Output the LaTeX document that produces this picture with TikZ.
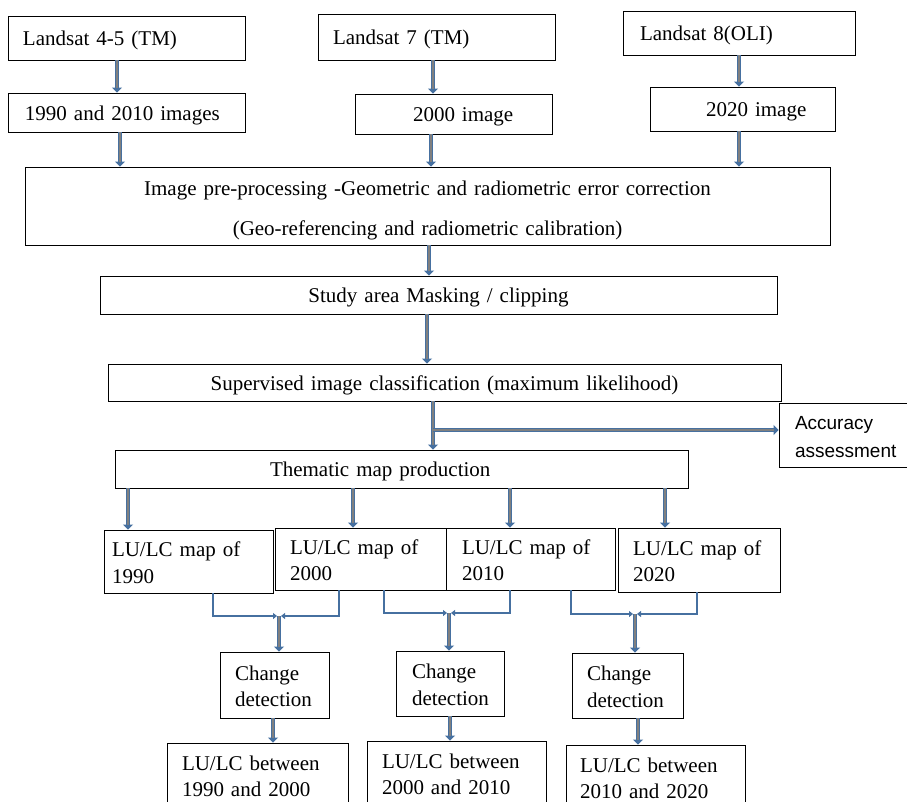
\documentclass[tikz,border=0pt]{standalone}
\usepackage{fontspec}
\setmainfont{Liberation Serif}
\newfontfamily\accfont{Liberation Sans}
\usetikzlibrary{arrows.meta}
\definecolor{abl}{RGB}{70,112,160}
\definecolor{agr}{RGB}{128,128,128}
\tikzset{
  box/.style={draw, line width=0.8pt, inner xsep=0pt, inner ysep=0pt, align=left,
    font=\fontsize{21}{26.5}\selectfont},
  bigarr/.style={draw=abl, line width=4.5pt, -{Triangle[width=10pt,length=5pt]},
    postaction={draw=agr, line width=1.4pt, -, shorten >=5pt}},
  thinarr/.style={draw=abl, line width=1.6pt, -{Triangle[width=6pt,length=4pt]}},
}
\newcommand\bx[7][]{\node[box,#1, minimum height=#6pt, text width=#5pt] (#2) at (#3,#4) {\rule{0pt}{20pt}#7\rule[-3pt]{0pt}{0pt}};}
\newcommand\pd[1]{\hspace*{#1pt}}
\begin{document}
\begin{tikzpicture}[x=1pt,y=-1pt]
\useasboundingbox (0,0) rectangle (907,802);
\clip (0,0) rectangle (907,802);
\bx{l45}{126.5}{38}{237}{44}{\pd{15}Landsat 4-5 (TM)}
\bx{l7}{436.5}{37}{237}{46}{\pd{15}Landsat 7 (TM)}
\bx{l8}{739}{33}{232}{44}{\pd{17}Landsat 8(OLI)}
\bx{i90}{126.5}{112.5}{237}{39}{\pd{17}1990 and 2010 images}
\bx{i00}{453.5}{114}{197}{40}{\pd{58}2000 image}
\bx{i20}{742.5}{109}{185}{44}{\pd{56}2020 image}
\bx[align=center]{pre}{427.5}{206}{805}{78}{\rule{0pt}{24.4pt}Image pre-processing -Geometric and radiometric error correction\\[13.5pt](Geo-referencing and radiometric calibration)}
\bx[align=center]{study}{438.5}{295}{677}{38}{Study area Masking / clipping}
\bx[align=center]{sup}{444.5}{382.5}{673}{37}{Supervised image classification (maximum likelihood)}
\bx[font=\accfont\fontsize{19}{28}\selectfont]{acc}{847}{435}{136}{64}{\pd{16}Accuracy\\\pd{16}assessment}
\bx{them}{401.5}{469}{573}{38}{\pd{155}Thematic map production}
\bx{m90}{188.5}{561.5}{169}{63}{\pd{8}LU/LC map of\\\pd{8}1990}
\bx{m00}{360.5}{559}{171}{62}{\pd{15}LU/LC map of\\\pd{15}2000}
\bx{m10}{530.5}{559}{169}{62}{\pd{16}LU/LC map of\\\pd{16}2010}
\bx{m20}{699}{560}{162}{64}{\pd{15}LU/LC map of\\\pd{15}2020}
\bx{cd1}{274.5}{685}{109}{66}{\pd{15}Change\\\pd{15}detection}
\bx{cd2}{450}{683.5}{108}{65}{\pd{16}Change\\\pd{16}detection}
\bx{cd3}{627.5}{685.5}{111}{65}{\pd{15}Change\\\pd{15}detection}
\bx{b1}{257.5}{775}{181}{64}{\pd{15}LU/LC between\\\pd{15}1990 and 2000}
\bx{b2}{456.5}{773}{179}{64}{\pd{15}LU/LC between\\\pd{15}2000 and 2010}
\bx{b3}{655.5}{777}{179}{64}{\pd{14}LU/LC between\\\pd{14}2010 and 2020}
% big arrows
\draw[bigarr] (117,0 |- l45.south) -- (117,0 |- i90.north);
\draw[bigarr] (120,0 |- i90.south) -- (120,0 |- pre.north);
\draw[bigarr] (433,0 |- l7.south) -- (433,0 |- i00.north);
\draw[bigarr] (431,0 |- i00.south) -- (431,0 |- pre.north);
\draw[bigarr] (739,0 |- l8.south) -- (739,0 |- i20.north);
\draw[bigarr] (739,0 |- i20.south) -- (739,0 |- pre.north);
\draw[bigarr] (429,0 |- pre.south) -- (429,0 |- study.north);
\draw[bigarr] (427,0 |- study.south) -- (427,0 |- sup.north);
\draw[bigarr] (433,0 |- sup.south) -- (433,0 |- them.north);
\coordinate (br) at (433,430);
\draw[bigarr] (br) -- (br -| acc.west);
\draw[bigarr] (128,0 |- them.south) -- (128,0 |- m90.north);
\draw[bigarr] (353,0 |- them.south) -- (353,0 |- m00.north);
\draw[bigarr] (510,0 |- them.south) -- (510,0 |- m10.north);
\draw[bigarr] (665,0 |- them.south) -- (665,0 |- m20.north);
% merges
\coordinate (j1) at (279,616);
\draw[thinarr] (213,0 |- m90.south) |- ([xshift=-2pt]j1);
\draw[thinarr] (339,0 |- m00.south) |- ([xshift=2pt]j1);
\draw[bigarr] (j1) -- (j1 |- cd1.north);
\coordinate (j2) at (449,613);
\draw[thinarr] (384,0 |- m00.south) |- ([xshift=-2pt]j2);
\draw[thinarr] (510,0 |- m10.south) |- ([xshift=2pt]j2);
\draw[bigarr] (j2) -- (j2 |- cd2.north);
\coordinate (j3) at (635,614);
\draw[thinarr] (571,0 |- m10.south) |- ([xshift=-2pt]j3);
\draw[thinarr] (697,0 |- m20.south) |- ([xshift=2pt]j3);
\draw[bigarr] (j3) -- (j3 |- cd3.north);
% to results
\draw[bigarr] (273,0 |- cd1.south) -- (273,0 |- b1.north);
\draw[bigarr] (450,0 |- cd2.south) -- (450,0 |- b2.north);
\draw[bigarr] (638,0 |- cd3.south) -- (638,0 |- b3.north);
\end{tikzpicture}
\end{document}
